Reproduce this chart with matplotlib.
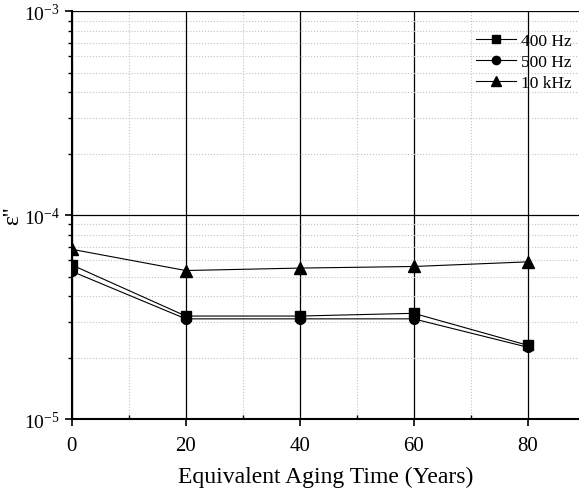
import numpy as np
import matplotlib.pyplot as plt
from matplotlib.ticker import LogLocator, FixedLocator

plt.rcParams['font.family'] = ['Liberation Serif', 'DejaVu Serif']

years = [0, 20, 40, 60, 80]
eps_400 = [5.7e-5, 3.2e-5, 3.2e-5, 3.3e-5, 2.3e-5]
eps_500 = [5.3e-5, 3.1e-5, 3.1e-5, 3.1e-5, 2.25e-5]
eps_10k = [6.8e-5, 5.35e-5, 5.5e-5, 5.6e-5, 5.9e-5]
labels = ['400 Hz', '500 Hz', '10 kHz']

fig = plt.figure(figsize=(5.79, 4.89), dpi=100)
ax = fig.add_axes([0.124, 0.141, 0.876, 0.834])

ax.plot(years, eps_400, 'k-s', lw=0.8, ms=7, label=labels[0])
ax.plot(years, eps_500, 'k-o', lw=0.8, ms=7, label=labels[1])
ax.plot(years, eps_10k, 'k-^', lw=0.8, ms=8, label=labels[2])

ax.set_yscale('log')
ax.set_ylim(1e-5, 1e-3)
ax.set_xlim(0, 89)
ax.set_xticks([0, 20, 40, 60, 80])
ax.xaxis.set_minor_locator(FixedLocator([10, 30, 50, 70]))
ax.yaxis.set_minor_locator(LogLocator(base=10, subs=np.arange(2, 10)))

# grid: solid major, dotted minor
ax.grid(True, which='major', color='black', lw=0.9, ls='-')
ax.grid(True, which='minor', color='#c4c4c4', lw=0.8, ls=':')
ax.set_axisbelow(True)

for s in ['top', 'right']:
    ax.spines[s].set_visible(False)
for s in ['left', 'bottom']:
    ax.spines[s].set_linewidth(1.5)

ax.tick_params(which='major', direction='out', length=5, width=1.2, labelsize=14)
ax.tick_params(axis='x', which='major', pad=7, labelsize=15)
ax.tick_params(which='minor', direction='out', length=3, width=1.0)
ax.tick_params(axis='x', which='minor', direction='in')

ax.set_xlabel('Equivalent Aging Time (Years)', fontsize=17, labelpad=8)
ax.set_ylabel("ε''", fontsize=17, va='center')
ax.yaxis.set_label_coords(-0.116, 0.5)

leg = ax.legend(loc='upper right', frameon=False, fontsize=12.5, handlelength=2.3,
                markerscale=0.85, labelspacing=0.3, handletextpad=0.3,
                bbox_to_anchor=(1.0, 0.965), borderaxespad=0.0)

fig.savefig('out.png', dpi=100)
